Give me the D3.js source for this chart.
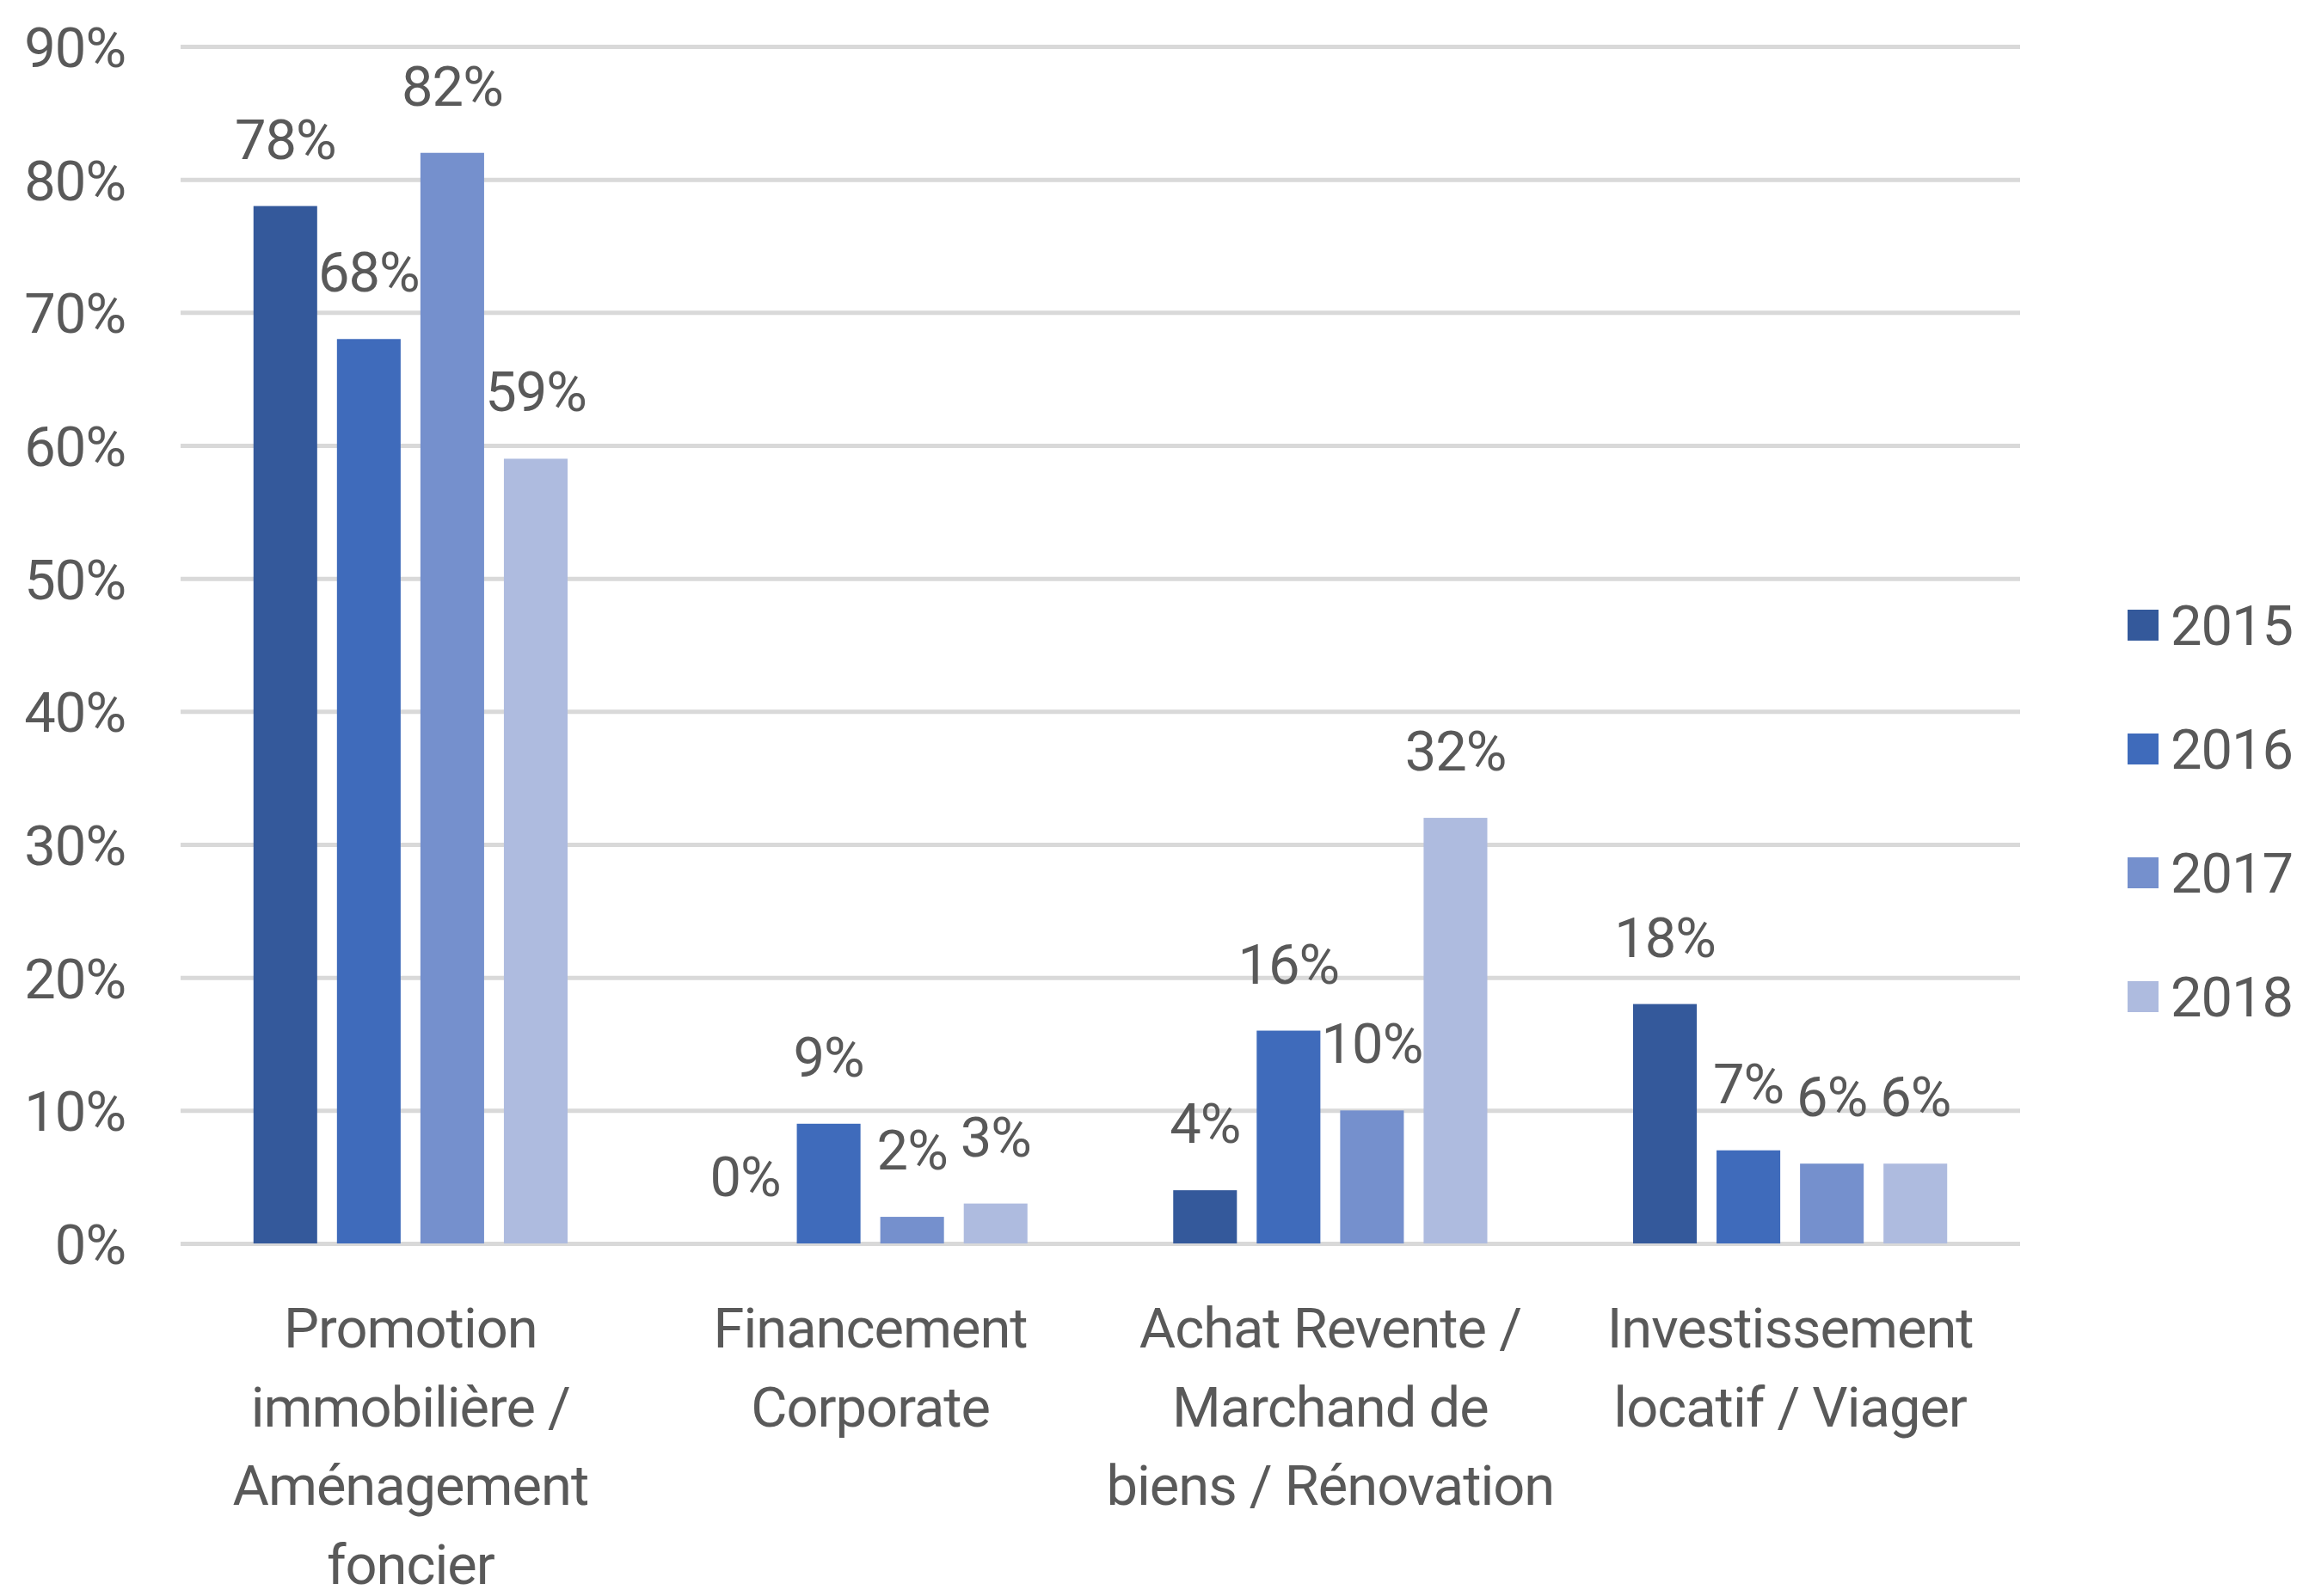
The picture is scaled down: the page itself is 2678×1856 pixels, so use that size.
<!DOCTYPE html>
<html>
<head>
<meta charset="utf-8">
<script src="https://cdn.jsdelivr.net/npm/d3@7"></script>
<style>
  html, body { margin: 0; padding: 0; background: #ffffff; }
  svg { display: block; }
  text { font-family: "Roboto", "Liberation Sans", sans-serif; fill: #595959; letter-spacing: -1px; }
</style>
</head>
<body>
<svg id="chart" width="2678" height="1856"></svg>
<script>
// Categories (full names) and the wrapped lines shown under the axis
const categories = [
  "Promotion immobilière / Aménagement foncier",
  "Financement Corporate",
  "Achat Revente / Marchand de biens / Rénovation",
  "Investissement locatif / Viager"
];
const categoryLabelLines = [
  ["Promotion", "immobilière /", "Aménagement", "foncier"],
  ["Financement", "Corporate"],
  ["Achat Revente /", "Marchand de", "biens / Rénovation"],
  ["Investissement", "locatif / Viager"]
];

// Series, one per year (percent)
const years = ["2015", "2016", "2017", "2018"];
const values2015 = [78, 0, 4, 18];
const values2016 = [68, 9, 16, 7];
const values2017 = [82, 2, 10, 6];
const values2018 = [59, 3, 32, 6];
const seriesValues = [values2015, values2016, values2017, values2018];

// Y axis ticks
const yTicks = [0, 10, 20, 30, 40, 50, 60, 70, 80, 90];

const colors = ["#34599b", "#3f6bbb", "#7590cd", "#aebbdf"];

const svg = d3.select("#chart");
const plot = { left: 210, right: 2349, top: 54, bottom: 1446 };
const fontSize = 65;

const x0 = d3.scaleBand()
  .domain(categories)
  .range([plot.left, plot.right])
  .paddingInner(0.317)
  .paddingOuter(0.317 / 2);

const x1 = d3.scaleBand()
  .domain(years)
  .range([0, x0.bandwidth()])
  .paddingInner(0.237);

const y = d3.scaleLinear().domain([0, 90]).range([plot.bottom, plot.top]);

const color = d3.scaleOrdinal().domain(years).range(colors);

// Gridlines and percent tick labels
const yAxis = svg.append("g")
  .attr("transform", `translate(${plot.left},0)`)
  .call(d3.axisLeft(y)
    .tickValues(yTicks)
    .tickSize(-(plot.right - plot.left))
    .tickPadding(64)
    .tickFormat(d => d + "%"));
yAxis.select(".domain").remove();
yAxis.selectAll(".tick line").attr("stroke", "#d9d9d9").attr("stroke-width", 5);
yAxis.selectAll(".tick text")
  .attr("font-size", fontSize)
  .attr("dy", "0.36em")
  .style("font-family", "Roboto, \"Liberation Sans\", sans-serif")
  .style("fill", "#595959");

// Flattened rows for bars
const rows = [];
categories.forEach((c, i) => {
  years.forEach((yr, j) => {
    rows.push({ category: c, year: yr, value: seriesValues[j][i] });
  });
});

const groups = svg.append("g").selectAll("g.bar")
  .data(rows)
  .join("g")
  .attr("class", "bar")
  .attr("transform", d => `translate(${x0(d.category) + x1(d.year)},0)`);

groups.append("rect")
  .attr("x", 0)
  .attr("width", x1.bandwidth())
  .attr("y", d => y(d.value))
  .attr("height", d => y(0) - y(d.value))
  .attr("fill", d => color(d.year));

// Value labels above the bars
groups.append("text")
  .attr("x", x1.bandwidth() / 2)
  .attr("y", d => y(d.value) - 55)
  .attr("text-anchor", "middle")
  .attr("font-size", fontSize)
  .text(d => d.value + "%");

// Category labels, wrapped on several lines
const catLabels = svg.append("g").selectAll("text")
  .data(categories)
  .join("text")
  .attr("text-anchor", "middle")
  .attr("font-size", fontSize)
  .attr("x", d => x0(d) + x0.bandwidth() / 2)
  .attr("y", 1567);
catLabels.each(function (d, i) {
  const t = d3.select(this);
  const cx = x0(d) + x0.bandwidth() / 2;
  categoryLabelLines[i].forEach((line, k) => {
    t.append("tspan").attr("x", cx).attr("dy", k === 0 ? 0 : 91.5).text(line);
  });
});

// Legend
const legend = svg.append("g").selectAll("g")
  .data(years)
  .join("g")
  .attr("transform", (d, i) => `translate(2474,${727 + i * 144})`);
legend.append("rect")
  .attr("x", 0).attr("y", -18)
  .attr("width", 36).attr("height", 36)
  .attr("fill", d => color(d));
legend.append("text")
  .attr("x", 50)
  .attr("dy", "0.36em")
  .attr("font-size", fontSize)
  .text(d => d);
</script>
</body>
</html>
